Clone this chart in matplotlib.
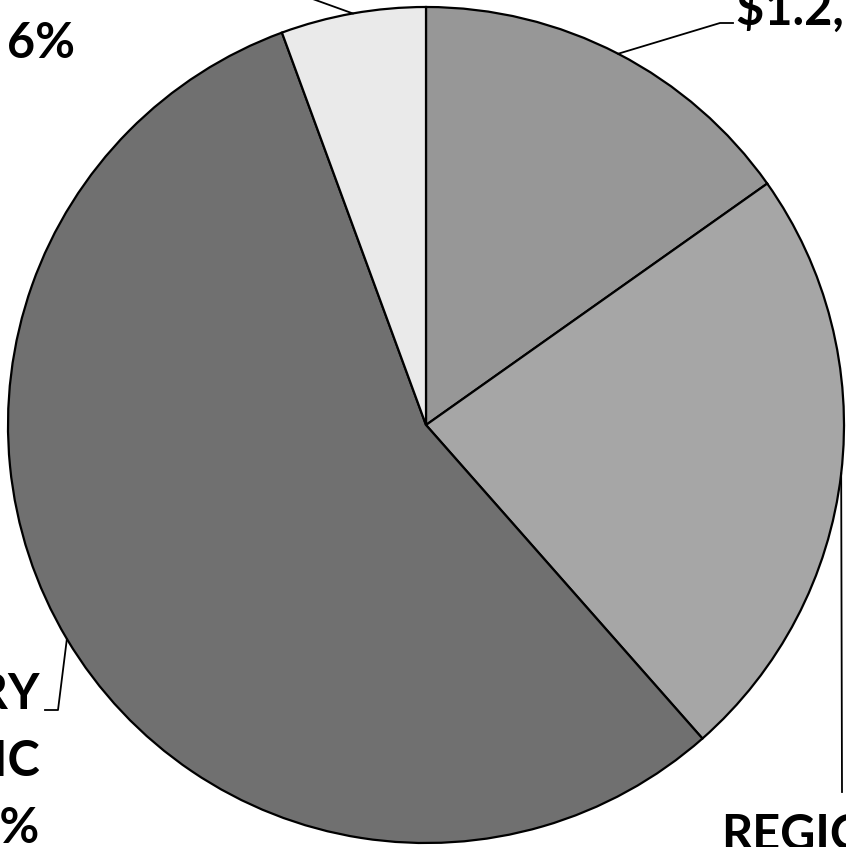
import numpy as np
import matplotlib
matplotlib.use("Agg")
import matplotlib.pyplot as plt

# spending shares, clockwise from 12 o'clock
names = ["$1.2,", "REGIONAL", "DISCRETIONARY\nDOMESTIC", "OTHER"]
shares = [15.2, 23.3, 55.9, 5.6]
colors = ["#979797", "#a6a6a6", "#707070", "#eaeaea"]

W, H = 846, 847
CX, CY, R = 426, 425, 418  # pie centre and radius in pixels


def px(x, y):
    # pixel position -> data coordinates (pie radius = 1)
    return (x - CX) / R, (CY - y) / R


plt.rcParams["font.family"] = ["Lato", "DejaVu Sans"]

fig = plt.figure(figsize=(W / 100, H / 100), dpi=100)
ax = fig.add_axes([0, 0, 1, 1])

wedges, _ = ax.pie(shares, colors=colors, startangle=90, counterclock=False,
                   radius=1, wedgeprops=dict(edgecolor="black", linewidth=1.6))

x0, y1 = px(0, 0)
x1, y0 = px(W, H)
ax.set_xlim(x0, x1)
ax.set_ylim(y0, y1)
ax.set_aspect("auto")
ax.axis("off")


def edge_point(w):
    a = np.deg2rad((w.theta1 + w.theta2) / 2)
    return np.cos(a), np.sin(a)


lk = dict(color="black", linewidth=1.3, clip_on=False)
fk = dict(fontsize=35, fontweight="bold", color="black", linespacing=1.6)

# top right wedge
ex, ey = edge_point(wedges[0])
p1, p2 = px(720, 23), px(733, 23)
ax.plot([ex, p1[0], p2[0]], [ey, p1[1], p2[1]], **lk)
tx, ty = px(736, 25)
ax.text(tx, ty, f"{names[0]} {shares[0]:.0f}%", ha="left", va="baseline", **fk)

# right wedge (baseline below refers to the last line)
ex, ey = edge_point(wedges[1])
p1 = px(842, 792)
ax.plot([ex, p1[0]], [ey, p1[1]], **lk)
tx, ty = px(721, 917)
ax.text(tx, ty, f"{names[1]}\n{shares[1]:.0f}%", ha="left", va="baseline", **fk)

# big wedge on the left
ex, ey = edge_point(wedges[2])
p1, p2 = px(58, 710), px(45, 710)
ax.plot([ex, p1[0], p2[0]], [ey, p1[1], p2[1]], **lk)
tx, ty = px(40, 843)
ax.text(tx, ty, f"{names[2]}\n{shares[2]:.0f}%", ha="right", va="baseline",
        multialignment="right", **fk)

# small wedge at the top
ex, ey = edge_point(wedges[3])
p1 = px(260, -20)
ax.plot([ex, p1[0]], [ey, p1[1]], **lk)
tx, ty = px(75, 58)
ax.text(tx, ty, f"{names[3]}\n{shares[3]:.0f}%", ha="right", va="baseline",
        multialignment="right", **fk)

fig.savefig("out.png", dpi=100)
